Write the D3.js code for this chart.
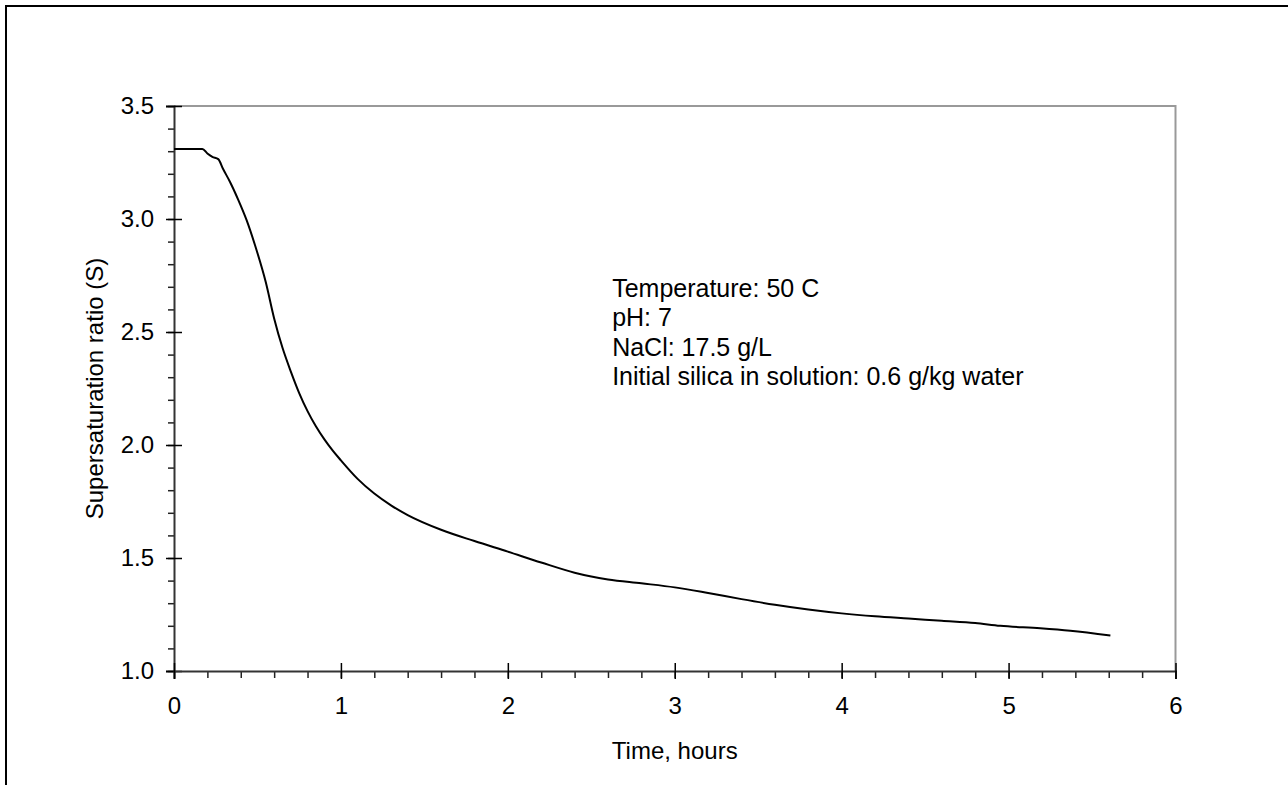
<!DOCTYPE html>
<html>
<head>
<meta charset="utf-8">
<script src="https://cdn.jsdelivr.net/npm/d3@7"></script>
<style>
  html, body { margin: 0; padding: 0; background: #fff; }
  svg { display: block; font-family: Arial, "Liberation Sans", sans-serif; }
</style>
</head>
<body>
<svg id="chart" width="1288" height="785"></svg>
<script>
// time (hours) and supersaturation ratio
const timeHours = [0, 0.17, 0.2, 0.23, 0.265, 0.295, 0.335, 0.385, 0.435, 0.485, 0.55, 0.6, 0.65, 0.7, 0.75, 0.8,
  0.85, 0.9, 0.95, 1.0, 1.1, 1.2, 1.3, 1.4, 1.6, 1.8, 2.0, 2.2, 2.4, 2.5, 2.6, 2.8, 3.0, 3.2, 3.4, 3.6, 3.8, 4.0, 4.2, 4.4,
  4.6, 4.8, 4.95, 5.19, 5.37, 5.61];
const ratioS = [3.31, 3.31, 3.29, 3.275, 3.265, 3.22, 3.165, 3.085, 2.995, 2.885, 2.72, 2.56, 2.43, 2.325, 2.23, 2.15,
  2.083, 2.026, 1.976, 1.932, 1.85, 1.785, 1.733, 1.69, 1.625, 1.575, 1.528, 1.48, 1.435, 1.418, 1.405, 1.388, 1.37, 1.345, 1.318, 1.293, 1.272, 1.255, 1.242, 1.232,
  1.222, 1.212, 1.2, 1.189, 1.178, 1.157];

const xTicks = [0, 1, 2, 3, 4, 5, 6];
const yTicks = [1.0, 1.5, 2.0, 2.5, 3.0, 3.5];
const notes = ['Temperature: 50 C', 'pH: 7', 'NaCl: 17.5 g/L', 'Initial silica in solution: 0.6 g/kg water'];

const svg = d3.select('#chart');
const margin = { top: 106, left: 174, right: 112.5, bottom: 114 };
const width = 1288, height = 785;
const innerWidth = width - margin.left - margin.right;
const innerHeight = height - margin.top - margin.bottom;

// outer frame (left and top only; it runs off the right and bottom edge)
svg.append('path')
  .attr('d', `M6,${height}V6H${width}`)
  .attr('fill', 'none').attr('stroke', '#000').attr('stroke-width', 2);

const g = svg.append('g').attr('transform', `translate(${margin.left},${margin.top})`);

const x = d3.scaleLinear().domain([0, 6]).range([0, innerWidth]);
const y = d3.scaleLinear().domain([1, 3.5]).range([innerHeight, 0]);

// top and right frame of the plot
g.append('path')
  .attr('d', `M0,0H${innerWidth}V${innerHeight}`)
  .attr('fill', 'none').attr('stroke', '#999').attr('stroke-width', 2);

// minor ticks
g.append('g')
  .call(d3.axisLeft(y).tickValues(d3.range(1, 3.501, 0.1)).tickSize(6).tickFormat(''))
  .call(a => a.select('.domain').remove())
  .call(a => a.selectAll('text').remove())
  .selectAll('line').attr('stroke', '#222').attr('stroke-width', 1.5);
g.append('g')
  .attr('transform', `translate(0,${innerHeight})`)
  .call(d3.axisBottom(x).tickValues(d3.range(0, 6.001, 0.2)).tickSize(7).tickFormat(''))
  .call(a => a.select('.domain').remove())
  .call(a => a.selectAll('text').remove())
  .selectAll('line').attr('stroke', '#222').attr('stroke-width', 1.5);

// major ticks cross the axis
g.append('g')
  .call(d3.axisLeft(y).tickValues(yTicks).tickSize(8).tickPadding(12).tickFormat(d3.format('.1f')))
  .call(a => a.select('.domain').attr('stroke', '#333').attr('stroke-width', 2))
  .call(a => a.selectAll('line').attr('x2', 8).attr('x1', -8).attr('stroke', '#000').attr('stroke-width', 1.5))
  .call(a => a.selectAll('text').attr('font-size', 24).attr('fill', '#000').attr('font-family', 'Arial, "Liberation Sans", sans-serif'));

g.append('g')
  .attr('transform', `translate(0,${innerHeight})`)
  .call(d3.axisBottom(x).tickValues(xTicks).tickSize(8).tickPadding(18).tickFormat(d3.format('d')))
  .call(a => a.select('.domain').attr('stroke', '#333').attr('stroke-width', 2))
  .call(a => a.selectAll('line').attr('y1', -8).attr('y2', 8).attr('stroke', '#000').attr('stroke-width', 1.5))
  .call(a => a.selectAll('text').attr('font-size', 24).attr('fill', '#000').attr('font-family', 'Arial, "Liberation Sans", sans-serif'));

// curve
const line = d3.line()
  .x((d, i) => x(timeHours[i]))
  .y(d => y(d))
  .curve(d3.curveMonotoneX);

g.append('path')
  .datum(ratioS)
  .attr('fill', 'none')
  .attr('stroke', '#000')
  .attr('stroke-width', 2)
  .attr('d', line);

// annotation
g.append('text')
  .attr('font-size', 25)
  .selectAll('tspan')
  .data(notes)
  .join('tspan')
  .attr('x', x(2.625))
  .attr('y', (d, i) => y(2.655) + i * 29.3)
  .text(d => d);

// axis titles
svg.append('text')
  .attr('x', margin.left + innerWidth / 2)
  .attr('y', 759)
  .attr('text-anchor', 'middle')
  .attr('font-size', 24)
  .text('Time, hours');

svg.append('text')
  .attr('transform', `translate(103,${margin.top + innerHeight / 2}) rotate(-90)`)
  .attr('text-anchor', 'middle')
  .attr('font-size', 24)
  .text('Supersaturation ratio (S)');
</script>
</body>
</html>
